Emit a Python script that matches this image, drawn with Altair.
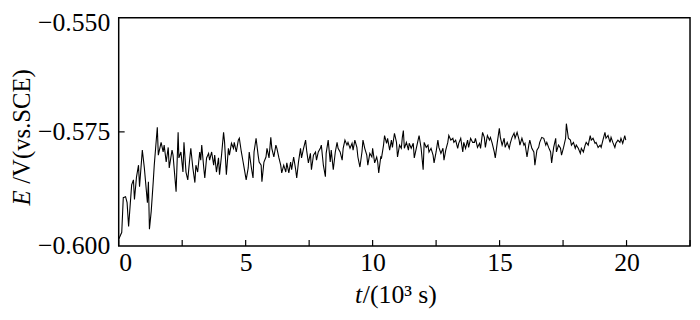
import altair as alt
import pandas as pd

# time in 10^3 s
t_ks = [0.00, 0.12, 0.18, 0.27, 0.33, 0.39, 0.51, 0.58, 0.62, 0.70, 0.78, 0.82, 0.93, 1.01, 1.13, 1.17, 1.21, 1.28,
        1.36, 1.40, 1.52, 1.56, 1.67, 1.75, 1.79, 1.87, 1.95, 1.99, 2.10, 2.14, 2.26, 2.34, 2.37, 2.45, 2.53, 2.57,
        2.65, 2.72, 2.80, 2.84, 2.92, 3.00, 3.04, 3.11, 3.19, 3.23, 3.27, 3.35, 3.39, 3.46, 3.54, 3.58, 3.66, 3.74,
        3.78, 3.85, 3.93, 3.97, 4.05, 4.13, 4.17, 4.24, 4.32, 4.36, 4.44, 4.52, 4.55, 4.63, 4.71, 4.75, 4.83, 4.90,
        4.94, 5.02, 5.10, 5.14, 5.22, 5.29, 5.33, 5.41, 5.49, 5.53, 5.61, 5.64, 5.72, 5.80, 5.84, 5.92, 5.99, 6.03,
        6.11, 6.19, 6.23, 6.31, 6.38, 6.42, 6.50, 6.58, 6.62, 6.70, 6.77, 6.81, 6.89, 6.97, 7.01, 7.08, 7.16, 7.20,
        7.28, 7.36, 7.40, 7.47, 7.55, 7.59, 7.67, 7.75, 7.79, 7.86, 7.94, 7.98, 8.06, 8.14, 8.17, 8.25, 8.33, 8.37,
        8.45, 8.53, 8.60, 8.64, 8.72, 8.80, 8.84, 8.91, 8.99, 9.03, 9.11, 9.19, 9.23, 9.30, 9.38, 9.42, 9.50, 9.58,
        9.62, 9.69, 9.77, 9.81, 9.89, 9.97, 10.00, 10.08, 10.16, 10.20, 10.24, 10.32, 10.35, 10.43, 10.47, 10.55,
        10.59, 10.67, 10.74, 10.78, 10.86, 10.94, 10.98, 11.06, 11.13, 11.17, 11.21, 11.25, 11.33, 11.41, 11.44,
        11.52, 11.60, 11.64, 11.72, 11.79, 11.83, 11.91, 11.99, 12.03, 12.11, 12.18, 12.22, 12.30, 12.38, 12.42,
        12.50, 12.57, 12.61, 12.69, 12.77, 12.81, 12.88, 12.96, 13.00, 13.08, 13.16, 13.20, 13.27, 13.35, 13.39,
        13.47, 13.55, 13.59, 13.66, 13.74, 13.78, 13.86, 13.94, 14.01, 14.05, 14.13, 14.21, 14.25, 14.33, 14.40,
        14.44, 14.52, 14.60, 14.64, 14.71, 14.79, 14.83, 14.91, 14.99, 15.03, 15.10, 15.18, 15.22, 15.30, 15.38,
        15.42, 15.49, 15.57, 15.61, 15.69, 15.77, 15.80, 15.88, 15.96, 16.00, 16.08, 16.15, 16.19, 16.27, 16.35,
        16.39, 16.47, 16.54, 16.58, 16.66, 16.74, 16.82, 16.86, 16.93, 17.01, 17.05, 17.13, 17.21, 17.24, 17.32,
        17.40, 17.44, 17.52, 17.60, 17.63, 17.71, 17.79, 17.83, 17.91, 17.98, 18.02, 18.10, 18.18, 18.22, 18.30,
        18.37, 18.41, 18.49, 18.57, 18.61, 18.68, 18.76, 18.80, 18.88, 18.96, 19.00, 19.07, 19.15, 19.19, 19.27,
        19.35, 19.39, 19.46, 19.54, 19.58, 19.66, 19.74, 19.78, 19.85, 19.93, 19.97]

# potential in mV (vs. SCE)
e_mv = [-598.5, -597.0, -589.4, -589.2, -590.5, -595.7, -586.6, -585.5, -589.8, -584.9, -582.3, -587.0, -579.0,
        -582.9, -590.5, -585.9, -596.3, -592.4, -585.9, -582.3, -574.0, -580.1, -577.3, -579.4, -577.9, -581.6,
        -578.4, -582.9, -579.0, -580.1, -588.1, -575.1, -580.7, -579.4, -583.8, -577.3, -583.8, -585.5, -580.7,
        -578.6, -582.9, -586.1, -582.3, -583.8, -579.4, -581.2, -577.9, -582.9, -585.1, -580.7, -579.7, -581.2,
        -579.4, -582.3, -580.1, -583.8, -580.7, -584.4, -580.1, -575.1, -577.3, -584.4, -578.6, -580.1, -577.5,
        -578.6, -577.3, -579.4, -576.8, -576.4, -579.4, -581.6, -582.9, -585.5, -582.9, -579.4, -582.7, -585.1,
        -579.4, -576.4, -580.1, -581.6, -582.3, -585.9, -581.6, -580.5, -578.6, -580.7, -576.2, -578.6, -580.5,
        -577.9, -578.6, -580.7, -582.3, -584.0, -582.3, -583.8, -581.8, -584.0, -581.6, -583.3, -580.5, -583.3,
        -585.1, -581.6, -578.6, -580.7, -578.6, -576.8, -579.0, -581.8, -579.7, -583.3, -580.1, -579.4, -581.2,
        -579.4, -578.6, -577.9, -582.3, -584.8, -579.7, -576.8, -581.6, -579.0, -583.3, -579.4, -577.3, -578.6,
        -579.4, -581.2, -578.6, -576.8, -577.9, -577.3, -578.6, -577.5, -579.0, -576.8, -578.4, -580.5, -582.7,
        -579.4, -576.8, -578.6, -580.1, -582.3, -579.7, -580.5, -578.6, -581.8, -580.5, -581.6, -584.0, -580.5,
        -580.7, -577.9, -575.8, -577.5, -576.4, -579.0, -576.8, -578.4, -575.3, -577.3, -580.5, -577.9, -578.6,
        -576.2, -574.7, -578.6, -577.3, -579.0, -577.5, -578.6, -577.5, -580.7, -578.6, -576.8, -575.8, -578.6,
        -583.3, -577.3, -578.4, -577.9, -579.4, -578.6, -580.1, -581.8, -579.4, -576.8, -578.4, -579.7, -578.6,
        -581.2, -579.0, -577.3, -575.8, -576.8, -576.4, -577.3, -576.8, -578.6, -577.5, -576.4, -579.4, -577.3,
        -578.6, -576.8, -578.4, -576.4, -577.3, -577.3, -576.4, -578.4, -577.5, -578.6, -575.1, -576.2, -578.4,
        -575.8, -576.8, -576.2, -577.5, -579.4, -580.7, -577.3, -574.2, -576.2, -577.9, -576.4, -578.4, -577.3,
        -578.6, -577.5, -576.2, -575.3, -576.4, -575.1, -576.8, -577.9, -576.4, -577.9, -577.5, -580.5, -577.9,
        -576.8, -578.6, -579.4, -582.3, -579.0, -578.4, -577.3, -576.2, -576.4, -577.9, -577.3, -578.4, -579.4,
        -581.8, -578.4, -576.4, -579.4, -577.9, -578.6, -580.1, -578.4, -576.4, -573.2, -576.4, -576.8, -577.9,
        -577.3, -578.6, -577.9, -578.6, -579.7, -578.6, -579.4, -577.9, -577.3, -577.9, -575.8, -576.8, -576.4,
        -577.5, -577.3, -578.4, -577.9, -578.4, -576.8, -575.1, -576.4, -575.8, -577.3, -576.2, -577.3, -578.4,
        -577.5, -576.8, -577.3, -576.4, -577.5, -575.8, -576.8]

x_tick_values = [0, 2.5, 5, 7.5, 10, 12.5, 15, 17.5, 20, 22.5]
x_label_values = [0, 5, 10, 15, 20]
y_label_values = [-0.600, -0.575, -0.550]
y_tick_values = [-0.575]

df = pd.DataFrame({"t": t_ks, "E": [v / 1000.0 for v in e_mv]})

W, H = 578, 231
FONT = "Liberation Serif"
FS = 26

xscale = alt.Scale(domain=[0, 22.5], nice=False, zero=False)
yscale = alt.Scale(domain=[-0.600, -0.550], nice=False, zero=False)

line = alt.Chart(df).mark_line(color="black", strokeWidth=1.1).encode(
    x=alt.X("t:Q", scale=xscale,
            axis=alt.Axis(values=x_label_values, title=None, ticks=False, domain=False, grid=False,
                          labelFont=FONT, labelFontSize=FS, labelColor="black", labelPadding=4)),
    y=alt.Y("E:Q", scale=yscale,
            axis=alt.Axis(values=y_label_values, format=".3f", title=None, ticks=False, domain=False, grid=False,
                          labelFont=FONT, labelFontSize=FS, labelColor="black", labelPadding=9,
                          labelOffset={"condition": {"test": "datum.value > -0.56", "value": 5}, "value": 0})),
)

xt = alt.Chart(pd.DataFrame({"t": x_tick_values})).mark_rule(color="black", strokeWidth=1.2).encode(
    x=alt.X("t:Q", scale=xscale), y=alt.value(H), y2=alt.value(H - 6))

yt = alt.Chart(pd.DataFrame({"E": y_tick_values})).mark_rule(color="black", strokeWidth=1.2).encode(
    y=alt.Y("E:Q", scale=yscale), x=alt.value(0), x2=alt.value(6))

one = pd.DataFrame({"a": [0]})

def txt(s, x, y, italic=False, angle=0, align="left", size=FS):
    kw = dict(font=FONT, fontSize=size, color="black", align=align, baseline="middle")
    if italic:
        kw["fontStyle"] = "italic"
    if angle:
        kw["angle"] = angle
    return alt.Chart(one).mark_text(**kw).encode(x=alt.value(x), y=alt.value(y), text=alt.value(s))

titles = [
    txt("E", -98, 190, italic=True, angle=270, size=25),
    txt("/V(vs.SCE)", -98, 168, angle=270, size=25),
    txt("t", 239, 281, italic=True),
    txt("/(10³ s)", 247, 281),
]

chart = alt.layer(line, xt, yt, *titles).properties(
    width=W, height=H,
    autosize=alt.AutoSizeParams(type="none"),
    padding={"left": 112, "top": 8, "right": 2, "bottom": 73},
).configure_view(stroke="black", strokeWidth=1.5)

chart.save("out.html", embed_options={"renderer": "svg", "actions": False})
